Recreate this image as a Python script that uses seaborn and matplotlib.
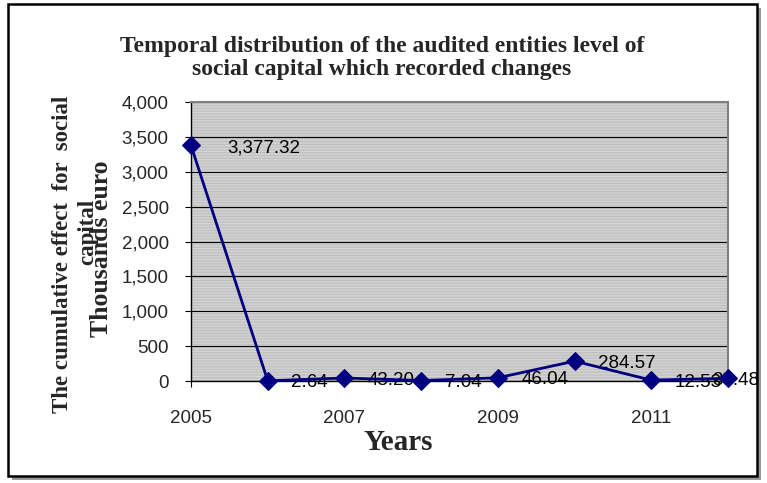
import pandas as pd
import seaborn as sns
import matplotlib.pyplot as plt
from matplotlib.patches import Rectangle
from matplotlib.ticker import FuncFormatter

years = [2005, 2006, 2007, 2008, 2009, 2010, 2011, 2012]
values = [3377.32, 2.64, 43.20, 7.04, 46.04, 284.57, 12.53, 38.48]
tick_years = [2005, 2007, 2009, 2011]
y_ticks = [0, 500, 1000, 1500, 2000, 2500, 3000, 3500, 4000]

data = pd.DataFrame({'year': years, 'value': values})

sns.set_style("white")
plt.rcParams['font.family'] = ['Liberation Sans', 'DejaVu Sans']

fig = plt.figure(figsize=(7.67, 4.83), dpi=100)
ax = fig.add_axes([191/767, 1 - 381/483, (728 - 191)/767, (381 - 102)/483])

# outer chart frame with shadow
fig.patches.append(Rectangle((12/767, 3/483), 749/767, 472/483, transform=fig.transFigure,
                             facecolor='#9a9a9a', edgecolor='none', zorder=-2))
fig.patches.append(Rectangle((8/767, 7/483), 749/767, 472/483, transform=fig.transFigure,
                             facecolor='white', edgecolor='black', linewidth=1.8, zorder=-1))

# striped gray plot area
ax.set_facecolor('#c0c0c0')
ax.patch.set_edgecolor('#d4d4d4')
ax.patch.set_hatch('------')
ax.patch.set_linewidth(0)

sns.lineplot(data=data, x='year', y='value', ax=ax, color='#000080', marker='D',
             markersize=9, markeredgecolor='#000080', linewidth=2, zorder=5, clip_on=False)

# data labels (first pushed right, last pulled back inside like the original)
offsets = [26, 17, 17, 17, 17, 17, 17, -11]
for yr, v, dx in zip(years, values, offsets):
    ax.annotate(f"{v:,.2f}", (yr, v), xytext=(dx, -1.5), textcoords='offset points',
                ha='left', va='center', fontsize=13.5, color='black', zorder=4,
                annotation_clip=False)

ax.set_xlim(2005, 2012)
ax.set_ylim(0, 4000)
ax.set_xticks(tick_years)
ax.set_yticks(y_ticks)
ax.yaxis.set_major_formatter(FuncFormatter(lambda v, p: f"{v:,.0f}"))
ax.tick_params(axis='both', labelsize=13.5, length=4, direction='out', color='black',
               left=True, bottom=True)
ax.tick_params(axis='y', pad=12)
ax.tick_params(axis='x', pad=17)
ax.grid(axis='y', color='black', linewidth=0.8)
ax.set_axisbelow(True)
for side in ['top', 'right']:
    ax.spines[side].set_color('#808080')
    ax.spines[side].set_linewidth(1.5)
for side in ['left', 'bottom']:
    ax.spines[side].set_color('black')
    ax.spines[side].set_linewidth(1)

ax.set_xlabel("")
ax.set_ylabel("")
fig.text(382/767, 1 - 58/483, "Temporal distribution of the audited entities level of\nsocial capital which recorded changes",
         ha='center', va='center', fontsize=17, fontweight='bold', family='Liberation Serif',
         linespacing=1.15)
fig.text(398/767, 1 - 443/483, "Years", ha='center', va='center', fontsize=21,
         fontweight='bold', family='Liberation Serif')
fig.text(63/767, 1 - 254/483, "The cumulative effect  for  social", ha='center', va='center',
         rotation=90, fontsize=16.5, fontweight='bold', family='Liberation Serif')
fig.text(88/767, 1 - 232/483, "capital", ha='center', va='center',
         rotation=90, fontsize=16.5, fontweight='bold', family='Liberation Serif')
fig.text(101/767, 1 - 249/483, "Thousands euro", ha='center', va='center',
         rotation=90, fontsize=18.5, fontweight='bold', family='Liberation Serif')

plt.savefig("out.png", dpi=100)
